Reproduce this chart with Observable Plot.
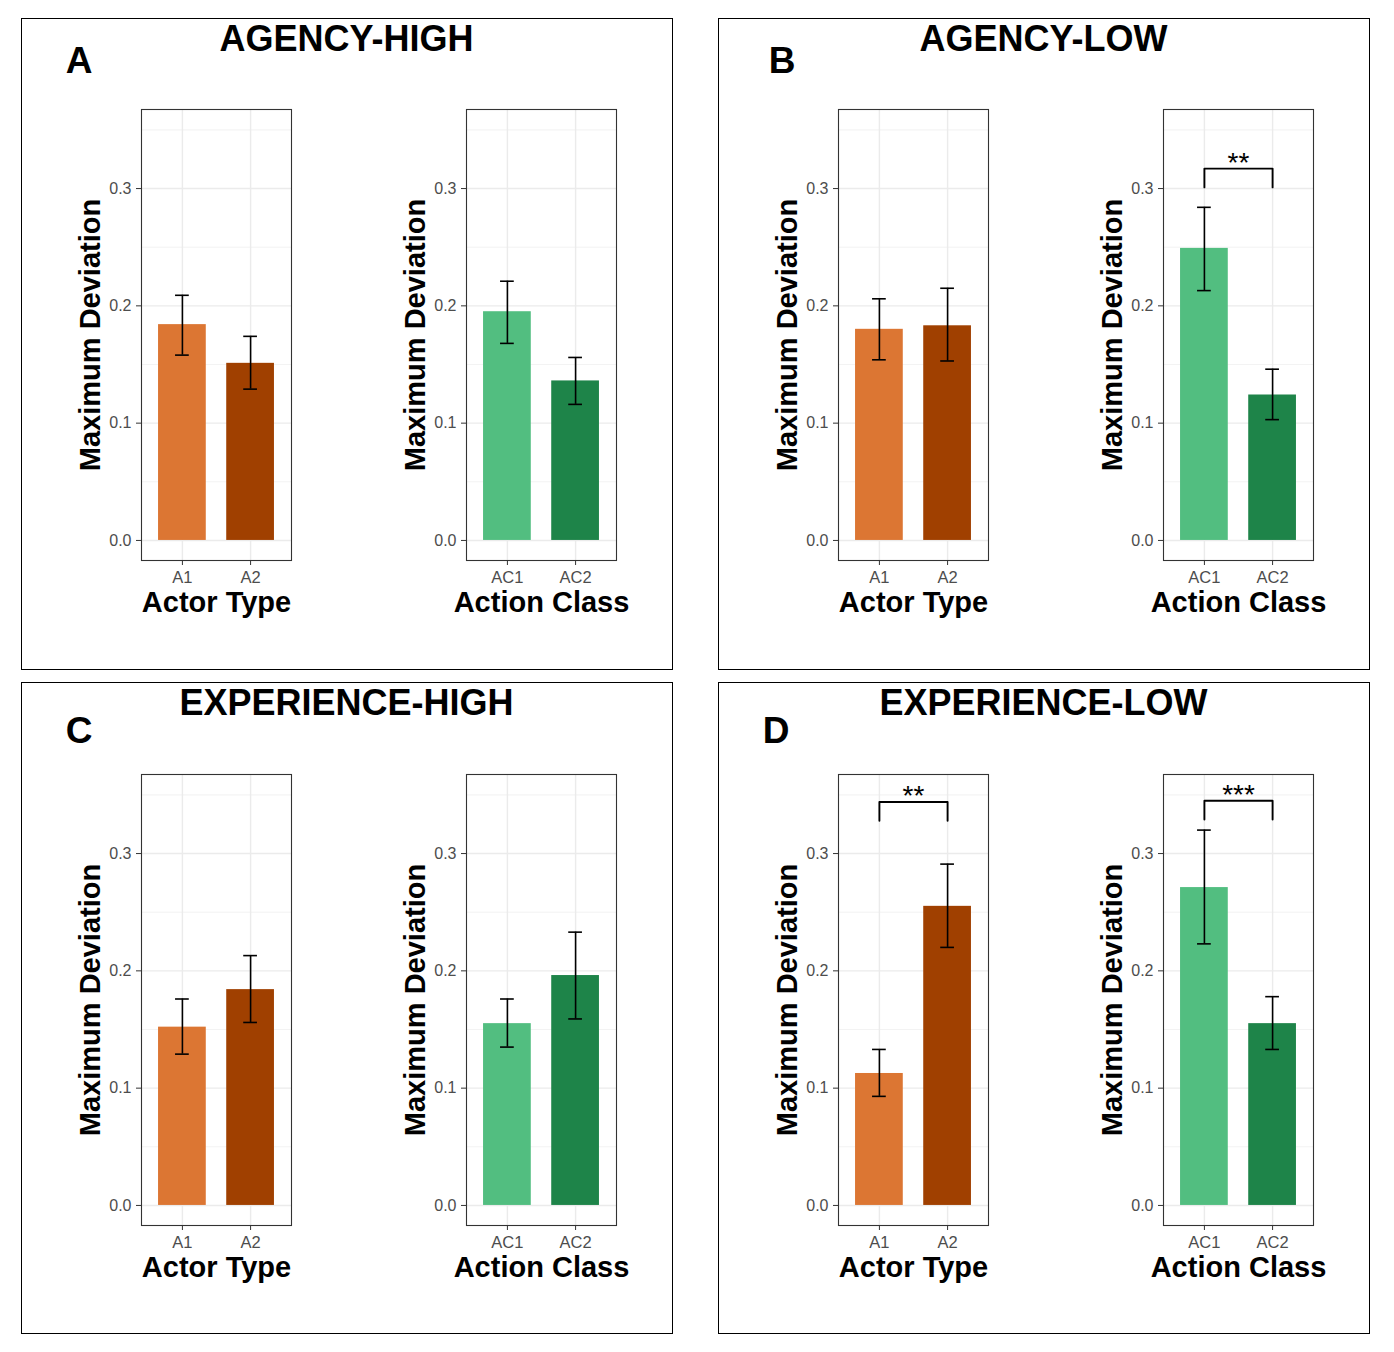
<!DOCTYPE html>
<html><head><meta charset="utf-8">
<script src="https://cdn.jsdelivr.net/npm/d3@7"></script>
<script src="https://cdn.jsdelivr.net/npm/@observablehq/plot@0.6"></script>
<style>
body{margin:0;background:#fff;font-family:"Liberation Sans",Arial,sans-serif;}
#page{position:relative;width:1394px;height:1352px;background:#fff;overflow:hidden;}
.panel{position:absolute;border:1.5px solid #000;box-sizing:border-box;}
.title{position:absolute;font-weight:bold;font-size:36px;line-height:36px;white-space:nowrap;transform:translateX(-50%);color:#000;}
.letter{position:absolute;font-weight:bold;font-size:37px;line-height:37px;white-space:nowrap;transform:translateX(-50%);color:#000;}
.sub{position:absolute;}
</style></head><body><div id="page"></div>
<script>
// ---------- data ----------
const panelLetters = ["A", "B", "C", "D"];
const panelTitles = ["AGENCY-HIGH", "AGENCY-LOW", "EXPERIENCE-HIGH", "EXPERIENCE-LOW"];
const actorTypes = ["A1", "A2"];
const actionClasses = ["AC1", "AC2"];
const actorTitle = "Actor Type";
const actionTitle = "Action Class";
const yTitle = "Maximum Deviation";

// per panel [A1, A2]
const actorMean = [[0.184, 0.151], [0.180, 0.183], [0.152, 0.184], [0.1125, 0.255]];
const actorLo   = [[0.158, 0.129], [0.154, 0.153], [0.129, 0.156], [0.093, 0.220]];
const actorHi   = [[0.209, 0.174], [0.206, 0.215], [0.176, 0.213], [0.133, 0.291]];
// per panel [AC1, AC2]
const actionMean = [[0.195, 0.136], [0.249, 0.124], [0.155, 0.196], [0.271, 0.155]];
const actionLo   = [[0.168, 0.116], [0.213, 0.103], [0.135, 0.159], [0.223, 0.133]];
const actionHi   = [[0.221, 0.156], [0.284, 0.146], [0.176, 0.233], [0.320, 0.178]];

const yTicks = [0, 0.1, 0.2, 0.3];
const yMinorTicks = [0.05, 0.15, 0.25, 0.35];
const yDomain = [-0.0171, 0.3674];

const actorColors = ["#DC7633", "#A04000"];
const actionColors = ["#52BE80", "#1E8449"];

// significance brackets
const sigPanel  = [1, 3, 3];
const sigFactor = ["action", "actor", "action"];
const sigLabel  = ["**", "**", "***"];
const sigY      = [0.317, 0.344, 0.345];
const sigTip    = [0.016, 0.016, 0.016];

// ---------- layout ----------
const FONT = '"Liberation Sans", Arial, sans-serif';
const page = document.getElementById("page");
const panelBoxes = [
  {left: 20.5, top: 17.5}, {left: 717.5, top: 17.5},
  {left: 20.5, top: 682}, {left: 717.5, top: 682}
];
const PW = 652, PH = 652;
const letterPos = [{x: 79, y: 60}, {x: 782, y: 60}, {x: 79, y: 730}, {x: 776, y: 730}];
const mL = 81, mR = 20, mT = 9, mB = 80, plotW = 150, plotH = 451;

function subplot(cats, colors, mean, lo, hi, xTitle, sigs) {
  const data = cats.map((c, i) => ({cat: c, mean: mean[i], lo: lo[i], hi: hi[i]}));
  const marks = [
    Plot.ruleY(yMinorTicks, {y: d => d, stroke: "#EDEDED", strokeWidth: 0.7}),
    Plot.ruleY(yTicks, {y: d => d, stroke: "#EBEBEB", strokeWidth: 1.4}),
    Plot.ruleX(cats, {x: d => d, stroke: "#EBEBEB", strokeWidth: 1.4}),
    Plot.barY(data, {x: "cat", y: "mean", fill: "cat"}),
    Plot.ruleX(data, {x: "cat", y1: "lo", y2: "hi", stroke: "#000", strokeWidth: 1.6}),
    Plot.tickY(data, {x: "cat", y: "lo", insetLeft: 17, insetRight: 17, stroke: "#000", strokeWidth: 1.6}),
    Plot.tickY(data, {x: "cat", y: "hi", insetLeft: 17, insetRight: 17, stroke: "#000", strokeWidth: 1.6}),
    Plot.frame({stroke: "#333", strokeWidth: 1.1}),
    Plot.axisY(yTicks, {tickSize: 5, tickPadding: 5, tickFormat: d3.format(".1f"), label: null,
      stroke: "#333", fill: "#4D4D4D", fontSize: 16}),
    Plot.axisX({tickSize: 5, tickPadding: 6, label: null, stroke: "#333", fill: "#4D4D4D", fontSize: 16.5}),
    Plot.text([yTitle], {text: d => d, frameAnchor: "left", textAnchor: "middle", lineAnchor: "middle",
      dx: -51, rotate: -90, fontSize: 29, fontWeight: "bold", fill: "#000"}),
    Plot.text([xTitle], {text: d => d, frameAnchor: "bottom", textAnchor: "middle", lineAnchor: "middle",
      dy: 42, fontSize: 29, fontWeight: "bold", fill: "#000"})
  ];
  sigs.forEach(s => {
    const pts = [
      {x: cats[0], y: s.y - s.tip}, {x: cats[0], y: s.y},
      {x: cats[1], y: s.y}, {x: cats[1], y: s.y - s.tip}
    ];
    marks.push(Plot.line(pts, {x: "x", y: "y", stroke: "#000", strokeWidth: 1.9}));
    marks.push(Plot.text([s], {y: "y", text: "label", dy: -6, fontSize: 28, lineAnchor: "middle",
      fill: "#000", style: "letter-spacing:2px"}));
  });
  return Plot.plot({
    width: mL + plotW + mR,
    height: mT + plotH + mB,
    marginLeft: mL, marginRight: mR, marginTop: mT, marginBottom: mB,
    style: {fontFamily: FONT, background: "transparent", overflow: "visible"},
    x: {domain: cats, type: "band", paddingInner: 0.3, paddingOuter: 0.25, round: false, axis: null},
    y: {domain: yDomain, axis: null},
    color: {domain: cats, range: colors},
    marks
  });
}

panelLetters.forEach((letter, p) => {
  const box = panelBoxes[p];
  const div = document.createElement("div");
  div.className = "panel";
  Object.assign(div.style, {left: box.left + "px", top: box.top + "px", width: PW + "px", height: PH + "px"});
  page.appendChild(div);

  const t = document.createElement("div");
  t.className = "title";
  t.textContent = panelTitles[p];
  Object.assign(t.style, {left: (box.left + PW / 2) + "px", top: (box.top + 20.5 - 17.5) + "px"});
  page.appendChild(t);

  const l = document.createElement("div");
  l.className = "letter";
  l.textContent = letter;
  Object.assign(l.style, {left: letterPos[p].x + "px", top: (letterPos[p].y - 18) + "px"});
  page.appendChild(l);

  const fy = box.top + 91.8;
  const fxs = [box.left + 120, box.left + 445];
  const sigsFor = f => sigPanel.map((sp, i) => ({sp, f: sigFactor[i], label: sigLabel[i], y: sigY[i], tip: sigTip[i]}))
    .filter(s => s.sp === p && s.f === f);

  const charts = [
    subplot(actorTypes, actorColors, actorMean[p], actorLo[p], actorHi[p], actorTitle, sigsFor("actor")),
    subplot(actionClasses, actionColors, actionMean[p], actionLo[p], actionHi[p], actionTitle, sigsFor("action"))
  ];
  charts.forEach((c, k) => {
    const wrap = document.createElement("div");
    wrap.className = "sub";
    Object.assign(wrap.style, {left: (fxs[k] - mL) + "px", top: (fy - mT) + "px"});
    wrap.appendChild(c);
    page.appendChild(wrap);
  });
});
</script></body></html>
